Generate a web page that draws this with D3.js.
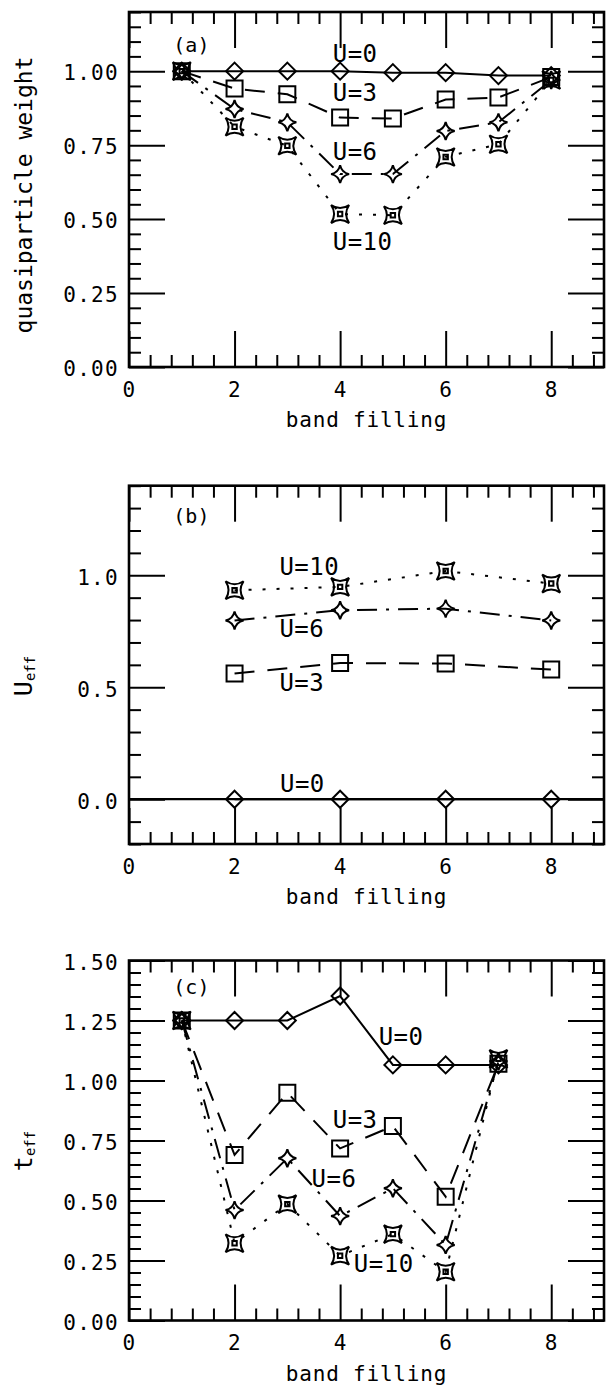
<!DOCTYPE html>
<html>
<head>
<meta charset="utf-8">
<script src="https://cdn.jsdelivr.net/npm/d3@7"></script>
<style>
  html, body { margin: 0; padding: 0; background: #fff; }
  svg { display: block; }
  text { fill: #000; }
</style>
</head>
<body>
<svg id="chart" width="608" height="1395"></svg>
<script>
// ---------------- data ----------------
const fillA = [1, 2, 3, 4, 5, 6, 7, 8];
const qpU0  = [1.00, 1.00, 1.00, 1.00, 0.995, 0.995, 0.985, 0.985];
const qpU3  = [1.00, 0.941, 0.922, 0.843, 0.840, 0.904, 0.911, 0.980];
const qpU6  = [1.00, 0.872, 0.827, 0.652, 0.652, 0.798, 0.827, 0.970];
const qpU10 = [1.00, 0.812, 0.748, 0.517, 0.513, 0.710, 0.753, 0.970];

const fillB   = [2, 4, 6, 8];
const ueffU0  = [0, 0, 0, 0];
const ueffU3  = [0.561, 0.608, 0.606, 0.579];
const ueffU6  = [0.798, 0.844, 0.851, 0.798];
const ueffU10 = [0.933, 0.948, 1.019, 0.963];

const fillC   = [1, 2, 3, 4, 5, 6, 7];
const teffU0  = [1.25, 1.25, 1.25, 1.352, 1.065, 1.065, 1.065];
const teffU3  = [1.25, 0.690, 0.949, 0.717, 0.810, 0.516, 1.070];
const teffU6  = [1.25, 0.460, 0.676, 0.435, 0.551, 0.315, 1.080];
const teffU10 = [1.25, 0.322, 0.485, 0.270, 0.360, 0.203, 1.090];

const xTicks  = [0, 2, 4, 6, 8];
const yTicksA = [0, 0.25, 0.5, 0.75, 1.0];
const yTicksB = [0, 0.5, 1.0];
const yTicksC = [0, 0.25, 0.5, 0.75, 1.0, 1.25, 1.5];
const seriesNames = ["U=0", "U=3", "U=6", "U=10"];

// label placements (data coordinates: left edge x, baseline y)
const labelsA = [["U=0", 3.86, 1.031], ["U=3", 3.86, 0.899], ["U=6", 3.86, 0.699], ["U=10", 3.86, 0.395]];
const labelsB = [["U=10", 2.85, 1.0], ["U=6", 2.85, 0.725], ["U=3", 2.85, 0.484], ["U=0", 2.86, 0.033]];
const labelsC = [["U=0", 4.73, 1.148], ["U=3", 3.86, 0.802], ["U=6", 3.46, 0.557], ["U=10", 4.26, 0.203]];

// ---------------- drawing ----------------
const svg = d3.select("#chart");
const MONO = "'DejaVu Sans Mono', monospace";

const markerPaths = {
  "U=0":  "M0,-8.5L8.5,0L0,8.5L-8.5,0Z",
  "U=3":  "M-8,-8H8V8H-8Z",
  "U=6":  "M0,-9Q1.6,-1.6 9,0Q1.6,1.6 0,9Q-1.6,1.6 -9,0Q-1.6,-1.6 0,-9Z",
  "U=10": "M-9,-9Q0,-3 9,-9Q3,0 9,9Q0,3 -9,9Q-3,0 -9,-9ZM-2.2,-2.2H2.2V2.2H-2.2Z"
};
const dashes = { "U=0": null, "U=3": "20,13", "U=6": "20,9,3,9", "U=10": "3,11" };

function panel(cfg) {
  const x = d3.scaleLinear().domain([0, 9]).range([129, 604]);
  const y = d3.scaleLinear().domain(cfg.yDomain).range(cfg.yRange);
  const g = svg.append("g");
  const top = cfg.yRange[1], bot = cfg.yRange[0];

  const xMinor = d3.range(0, 9.0001, 0.4).filter(v => Math.abs(v / 2 - Math.round(v / 2)) > 1e-6 && v < 8.99);
  const yMinor = d3.range(cfg.yDomain[0], cfg.yDomain[1] + 1e-9, cfg.minorStep)
    .filter(v => !cfg.yTicks.some(t => Math.abs(t - v) < 1e-6));

  g.append("g").attr("transform", `translate(0,${bot})`)
    .call(d3.axisBottom(x).tickValues(xTicks).tickSize(-36).tickPadding(15).tickFormat(d3.format("d")));
  g.append("g").attr("transform", `translate(0,${bot})`)
    .call(d3.axisBottom(x).tickValues(xMinor).tickSize(-12).tickFormat(""));
  g.append("g").attr("transform", `translate(0,${top})`)
    .call(d3.axisTop(x).tickValues(xTicks).tickSize(-36).tickFormat(""));
  g.append("g").attr("transform", `translate(0,${top})`)
    .call(d3.axisTop(x).tickValues(xMinor).tickSize(-12).tickFormat(""));
  const lAx = g.append("g").attr("transform", `translate(129,0)`)
    .call(d3.axisLeft(y).tickValues(cfg.yTicks).tickSize(-36).tickPadding(10).tickFormat(d3.format(cfg.fmt)));
  g.append("g").attr("transform", `translate(129,0)`)
    .call(d3.axisLeft(y).tickValues(yMinor).tickSize(-12).tickFormat(""));
  g.append("g").attr("transform", `translate(604,0)`)
    .call(d3.axisRight(y).tickValues(cfg.yTicks).tickSize(-36).tickFormat(""));
  g.append("g").attr("transform", `translate(604,0)`)
    .call(d3.axisRight(y).tickValues(yMinor).tickSize(-12).tickFormat(""));

  g.selectAll(".domain").remove();
  g.selectAll(".tick line").attr("stroke", "#000").attr("stroke-width", 2);
  g.selectAll(".tick text").attr("font-family", MONO).attr("font-size", 21)
    .attr("letter-spacing", 1.3).attr("fill", "#000");
  lAx.selectAll(".tick text").attr("dy", "0.42em");

  g.append("rect").attr("x", x(0)).attr("y", top).attr("width", x(9) - x(0)).attr("height", bot - top)
    .attr("fill", "none").attr("stroke", "#000").attr("stroke-width", 2.6);

  g.append("text").attr("x", x(4.5)).attr("y", bot + 60).attr("text-anchor", "middle")
    .attr("font-family", MONO).attr("font-size", 21).attr("letter-spacing", 0.8).text("band filling");

  const yt = g.append("text").attr("transform", `translate(32,${cfg.yTitleY}) rotate(-90)`)
    .attr("text-anchor", "middle").attr("font-family", MONO).attr("font-size", 23);
  if (cfg.yTitleSub) {
    yt.append("tspan").attr("font-size", 25).text(cfg.yTitle);
    yt.append("tspan").attr("font-size", 14).attr("dy", 3).text(cfg.yTitleSub);
  } else {
    yt.text(cfg.yTitle);
  }

  g.append("text").attr("x", x(0.84)).attr("y", y(cfg.tag[1])).attr("font-family", MONO)
    .attr("font-size", 20).text(cfg.tag[0]);

  if (cfg.zeroLine) {
    g.append("line").attr("x1", x(0)).attr("x2", x(9)).attr("y1", y(0)).attr("y2", y(0))
      .attr("stroke", "#000").attr("stroke-width", 2.2);
  }

  const line = d3.line().x(d => x(d[0])).y(d => y(d[1]));
  cfg.series.forEach((vals, i) => {
    const name = seriesNames[i];
    const pts = cfg.xs.map((xv, j) => [xv, vals[j]]);
    g.append("path").datum(pts).attr("d", line).attr("fill", "none")
      .attr("stroke", "#000").attr("stroke-width", 2)
      .attr("stroke-dasharray", dashes[name]);
  });
  cfg.series.forEach((vals, i) => {
    const name = seriesNames[i];
    const pts = cfg.xs.map((xv, j) => [xv, vals[j]]);
    g.selectAll(null).data(pts).enter().append("path")
      .attr("transform", d => `translate(${x(d[0])},${y(d[1])})`)
      .attr("d", markerPaths[name]).attr("fill", "none")
      .attr("stroke", "#000").attr("stroke-width", 2);
  });

  g.selectAll(null).data(cfg.labels).enter().append("text")
    .attr("x", d => x(d[1])).attr("y", d => y(d[2]))
    .attr("font-family", MONO).attr("font-size", 24).attr("letter-spacing", 0.5)
    .text(d => d[0]);
}

panel({
  yDomain: [0, 1.2], yRange: [367, 12], yTicks: yTicksA, minorStep: 0.05, fmt: ".2f",
  yTitle: "quasiparticle weight", yTitleY: 195, tag: ["(a)", 1.066],
  xs: fillA, series: [qpU0, qpU3, qpU6, qpU10], labels: labelsA
});
panel({
  yDomain: [-0.2, 1.4], yRange: [844, 485.7], yTicks: yTicksB, minorStep: 0.1, fmt: ".1f",
  yTitle: "U", yTitleSub: "eff", yTitleY: 676, tag: ["(b)", 1.235], zeroLine: true,
  xs: fillB, series: [ueffU0, ueffU3, ueffU6, ueffU10], labels: labelsB
});
panel({
  yDomain: [0, 1.5], yRange: [1320.5, 960.5], yTicks: yTicksC, minorStep: 0.05, fmt: ".2f",
  yTitle: "t", yTitleSub: "eff", yTitleY: 1151, tag: ["(c)", 1.36],
  xs: fillC, series: [teffU0, teffU3, teffU6, teffU10], labels: labelsC
});
</script>
</body>
</html>
